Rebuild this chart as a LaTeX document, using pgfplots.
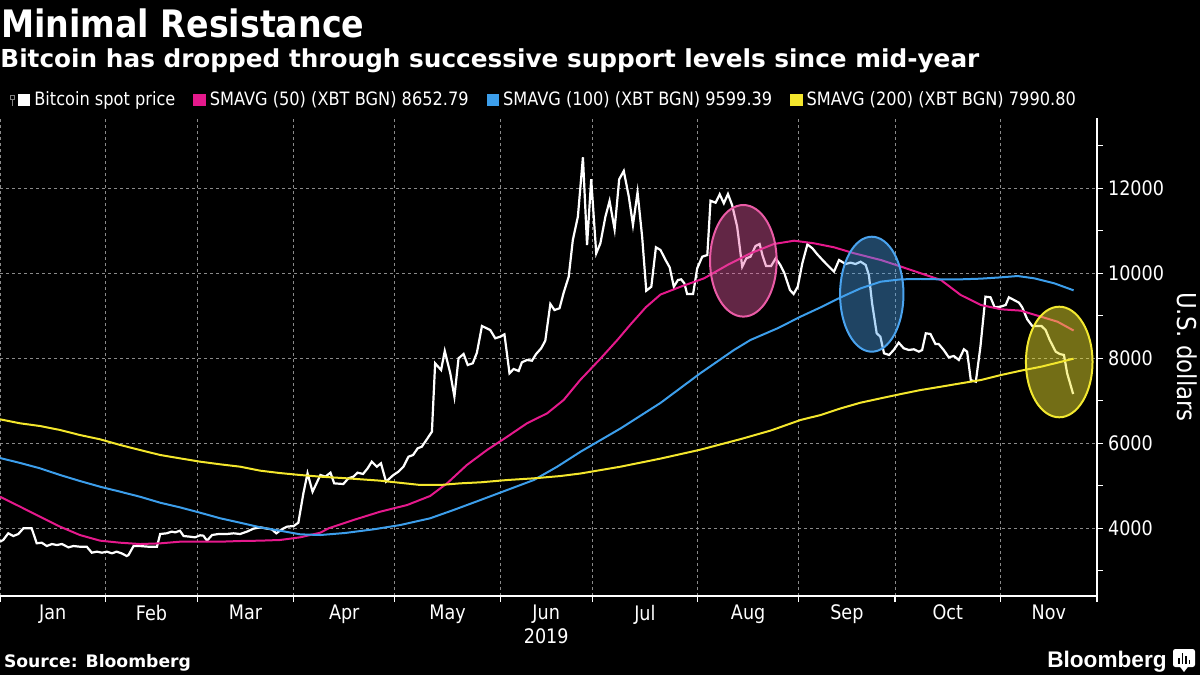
\documentclass[border=0pt]{standalone}
\usepackage{fontspec}
\usepackage{pgfplots}
\pgfplotsset{compat=1.18}
\setmainfont{DejaVu Sans}[FakeStretch=0.88]
\newfontfamily\widefont{DejaVu Sans}
\newfontfamily\logofont{Liberation Sans}
\definecolor{bbmag}{HTML}{E5198C}
\definecolor{bbblue}{HTML}{3C9EEB}
\definecolor{bbyel}{HTML}{F3E62C}
\definecolor{ellpink}{HTML}{EA5BA6}
\definecolor{ellblue}{HTML}{4AA3EE}
\definecolor{ellyel}{HTML}{F2E830}
\definecolor{gridgray}{HTML}{8A8A8A}

\pgfplotstableread{
t v
0 3685
0.7 3725
1.8 3882
2.9 3818
4.0 3866
5.1 4000
6.9 4000
8.0 3647
9.1 3661
10.2 3583
11.3 3630
12.4 3607
13.5 3630
14.9 3552
16.0 3583
17.4 3567
18.9 3567
20.0 3426
21.1 3450
22.2 3426
23.3 3450
24.4 3411
25.4 3450
26.5 3411
27.6 3348
28.0 3372
29.1 3583
30.5 3583
32.3 3567
34.2 3567
34.9 3866
36.3 3882
37.4 3921
38.2 3905
39.2 3944
40.0 3818
41.4 3803
42.5 3788
43.6 3835
44.3 3827
45.1 3709
46.2 3842
47.6 3866
49.4 3866
50.9 3882
52.3 3866
53.8 3921
55.2 3991
56.7 4023
58.2 3991
59.2 3976
60.2 3882
61.4 3976
62.5 4038
64.0 4054
65.0 4132
66.1 4824
67.0 5294
68.1 4861
69.8 5254
70.9 5215
72.0 5309
72.8 5058
74.8 5042
75.9 5176
77.0 5215
77.9 5309
79.1 5278
80.1 5412
81.0 5568
82.1 5450
83.0 5529
84.1 5097
85.7 5254
86.8 5332
87.9 5450
89.0 5685
90.0 5725
91.0 5882
91.9 5921
93.0 6094
94.1 6273
94.8 7882
96.1 7725
96.9 8171
98.1 7647
99.0 7097
99.9 8000
101.0 8101
101.9 7842
103.0 7882
103.9 8132
105.0 8760
106.8 8666
107.9 8471
109.0 8509
109.9 8564
111.0 7647
111.9 7748
113.0 7701
113.7 7905
114.8 7960
115.9 7944
116.8 8101
117.9 8235
118.8 8414
119.9 9278
120.8 9136
121.9 9176
122.8 9543
123.9 9920
124.8 10783
125.9 11332
127.0 12729
127.9 10666
128.8 12212
129.9 10470
130.8 10705
131.9 11332
132.8 11701
133.9 11035
134.9 12212
135.9 12407
137.0 11802
137.9 11136
138.9 11906
139.9 10861
140.8 9590
141.9 9685
142.9 10612
143.9 10548
145.0 10313
145.9 10140
146.8 9685
147.7 9842
148.4 9858
149.1 9764
149.7 9513
151.0 9513
151.9 10117
153.0 10391
154.1 10430
154.8 11708
155.9 11661
156.8 11859
157.7 11647
158.6 11866
159.5 11607
160.6 11097
161.7 10155
162.6 10353
163.5 10391
164.6 10642
165.5 10689
166.1 10430
166.9 10172
168.0 10172
169.0 10353
170.0 10196
170.9 10000
172.1 9607
172.9 9513
173.8 9685
174.8 10235
175.9 10680
177.0 10588
178.0 10454
179.2 10313
180.6 10157
181.7 10038
182.8 10313
184.2 10219
185.3 10250
186.4 10219
187.5 10273
188.6 10196
189.3 9960
190.0 9294
191.0 8588
191.8 8509
192.6 8117
193.7 8078
194.7 8196
195.8 8368
196.9 8235
198.0 8196
199.1 8212
200.2 8156
200.9 8196
201.7 8588
202.7 8572
203.8 8337
204.5 8337
205.6 8196
206.7 8023
207.8 8054
208.9 7960
210.0 8212
210.7 8156
211.5 7489
212.6 7450
213.6 8273
214.7 9450
215.8 9435
216.7 9200
218.0 9214
219.1 9254
219.8 9435
220.9 9372
222.0 9309
222.7 9200
223.8 8918
224.9 8760
226.0 8760
226.9 8760
227.8 8666
228.7 8431
230.0 8156
230.9 8101
231.8 8078
232.5 7647
233.8 7160
}\spot

\pgfplotstableread{
t v
0 4743
4.4 4508
8.7 4273
13.1 4038
17.4 3842
21.8 3709
26.2 3661
30.5 3630
34.9 3646
39.2 3685
43.6 3685
48.0 3685
52.3 3701
56.7 3709
61.0 3725
65.4 3788
69.8 3897
71.6 4000
77.0 4195
82.8 4390
88.7 4548
93.7 4760
97.4 5058
101.7 5489
106.1 5842
110.5 6155
114.8 6470
119.2 6705
122.8 7019
126.4 7489
130.8 7990
134.5 8431
137.4 8800
140.7 9200
143.9 9500
148.3 9685
153.4 9882
158.5 10196
163.5 10470
168.6 10689
173.0 10767
177.4 10705
181.7 10612
186.1 10470
191.9 10313
196.3 10157
200.6 10000
205.0 9842
209.3 9490
213.7 9254
218.1 9153
222.4 9121
226.8 8979
230.4 8861
233.9 8653
}\smafifty

\pgfplotstableread{
t v
0 5654
4.4 5537
8.7 5412
13.1 5254
17.4 5113
21.8 4979
26.2 4861
30.5 4743
34.9 4602
39.2 4493
43.6 4367
48.0 4235
52.3 4132
56.7 4023
61.0 3944
65.4 3858
69.8 3842
75.2 3890
81.4 3976
87.2 4077
93.7 4235
98.8 4430
104.7 4666
110.5 4901
116.3 5136
121.4 5450
126.5 5803
135.2 6350
143.9 6950
152.6 7650
159.9 8195
163.5 8431
169.4 8706
174.4 8979
178.8 9200
183.2 9435
187.5 9646
191.9 9803
196.3 9858
200.6 9866
205.0 9858
209.3 9858
213.7 9874
218.1 9905
221.7 9936
225.3 9882
229.7 9764
233.9 9599
}\smahundred

\pgfplotstableread{
t v
0 6565
4.4 6470
8.7 6407
13.1 6313
17.4 6195
21.8 6094
26.2 5960
30.5 5842
34.9 5725
39.2 5646
43.6 5568
48.0 5505
52.3 5450
56.7 5356
61.0 5300
65.4 5254
69.8 5215
75.6 5176
82.8 5121
91.6 5019
95.9 5019
100.3 5058
104.7 5082
110.5 5136
116.3 5176
122.1 5230
126.5 5290
135.2 5450
143.9 5640
152.6 5850
161.4 6100
167.9 6300
174.4 6548
178.8 6666
183.2 6823
187.5 6956
191.9 7059
196.3 7160
200.6 7254
205.0 7332
209.3 7411
213.7 7489
218.1 7607
222.4 7709
226.8 7802
230.4 7897
233.9 7991
}\smatwohundred

\begin{document}
\begin{tikzpicture}
\fill[black] (0pt,0pt) rectangle (600pt,-337.5pt);
\node[anchor=base west, inner sep=0pt, text=white, font=\bfseries\fontsize{18.9}{22}\selectfont] at (0.4pt,-18.5pt) {Minimal Resistance};
\node[anchor=base west, inner sep=0pt, text=white, font=\widefont\bfseries\fontsize{12.37}{14}\selectfont] at (0pt,-33.5pt) {Bitcoin has dropped through successive support levels since mid-year};
\begin{axis}[
  at={(0pt,-298pt)}, anchor=south west,
  scale only axis, width=548.5pt, height=239pt,
  xmin=0, xmax=239, ymin=2407, ymax=13654,
  axis x line*=bottom, axis y line*=right,
  axis line style={white, line width=0.8pt},
  /pgf/number format/assume math mode=true,
  scaled y ticks=false, scaled x ticks=false,
  xtick={0,23,43,64,86,109,129,152,174,195,218,239},
  xticklabels={},
  extra x ticks={11.5,33,53.5,75,97.5,119,140.5,163,184.5,206.5,228.5},
  extra x tick labels={Jan,Feb,Mar,Apr,May,{Jun\\2019},Jul,Aug,Sep,Oct,Nov},
  extra x tick style={major tick length=0pt, grid=none},
  xticklabel style={align=center, text=white, font=\fontsize{10}{12}\selectfont, yshift=-1pt},
  ytick={4000,6000,8000,10000,12000},
  yticklabels={4000,6000,8000,10000,12000},
  minor ytick={3000,5000,7000,9000,11000,13000},
  yticklabel style={text=white, font=\fontsize{10}{12}\selectfont, xshift=-1pt},
  tick align=outside, major tick length=3pt, minor tick length=3pt,
  tick style={white, line width=0.6pt},
  xmajorgrids=true, ymajorgrids=true,
  major grid style={dash pattern=on 1.5pt off 1.5pt, gridgray, line width=0.4pt},
  ylabel={U.S. dollars},
  ylabel style={at={(axis description cs:1.0825,0.5)}, anchor=center, rotate=180, text=white, font=\fontsize{13}{15}\selectfont},
  legend columns=4,
  legend style={at={(axis description cs:0,1)}, anchor=west, xshift=5pt, yshift=9pt,
    fill=none, draw=none, text=white, font=\fontsize{9.2}{11}\selectfont,
    inner sep=0pt, outer sep=0pt, nodes={inner sep=0pt},
    /tikz/every odd column/.append style={column sep=2pt},
    /tikz/every even column/.append style={column sep=9pt}},
  legend cell align=left,
  legend image code/.code={\fill[#1] (0pt,-2.6pt) rectangle (5.2pt,2.6pt);},
]
\addplot[white, line width=1.1pt,
  legend image code/.code={
    \draw[gray, line width=0.4pt] (-4.2pt,0.2pt) rectangle (-2pt,2.4pt);
    \draw[gray, line width=0.4pt] (-3.1pt,0.2pt) -- (-3.1pt,-2.8pt);
    \fill[white] (0pt,-2.6pt) rectangle (5.2pt,2.6pt);}]
  table[x=t, y=v] {\spot};
\addlegendentry{Bitcoin spot price}
\addplot[bbmag, line width=1pt] table[x=t, y=v] {\smafifty};
\addlegendentry{SMAVG (50) (XBT BGN) 8652.79}
\addplot[bbblue, line width=1pt] table[x=t, y=v] {\smahundred};
\addlegendentry{SMAVG (100) (XBT BGN) 9599.39}
\addplot[bbyel, line width=1pt] table[x=t, y=v] {\smatwohundred};
\addlegendentry{SMAVG (200) (XBT BGN) 7990.80}
\draw[ellpink, line width=1pt, fill=ellpink, fill opacity=0.42] (axis cs:161.95,10294) ellipse [x radius=16.65pt, y radius=27.9pt];
\draw[ellblue, line width=1pt, fill=ellblue, fill opacity=0.42] (axis cs:189.93,9508) ellipse [x radius=15.85pt, y radius=28.75pt];
\draw[ellyel, line width=1pt, fill=ellyel, fill opacity=0.48] (axis cs:230.77,7913) ellipse [x radius=16.65pt, y radius=27.65pt];
\end{axis}
\node[anchor=base west, inner sep=0pt, text=white, font=\widefont\bfseries\fontsize{8.6}{11}\selectfont] at (1.8pt,-333.5pt) {Source: Bloomberg};
\node[anchor=base east, inner sep=0pt, text=white, font=\logofont\bfseries\fontsize{11.3}{13}\selectfont] at (583.5pt,-333.5pt) {Bloomberg};
\fill[white, rounded corners=1.2pt] (586.5pt,-324.5pt) rectangle (597.5pt,-333.5pt);
\fill[white] (590pt,-333.4pt) -- (592pt,-336pt) -- (594pt,-333.4pt) -- cycle;
\fill[black] (589pt,-332pt) rectangle (589.8pt,-329pt);
\fill[black] (590.8pt,-332pt) rectangle (591.6pt,-326.5pt);
\fill[black] (592.6pt,-332pt) rectangle (593.4pt,-328pt);
\fill[black] (594.4pt,-332pt) rectangle (595.2pt,-330pt);
\pgfresetboundingbox
\useasboundingbox (0pt,0pt) rectangle (600pt,-337.5pt);
\end{tikzpicture}
\end{document}
